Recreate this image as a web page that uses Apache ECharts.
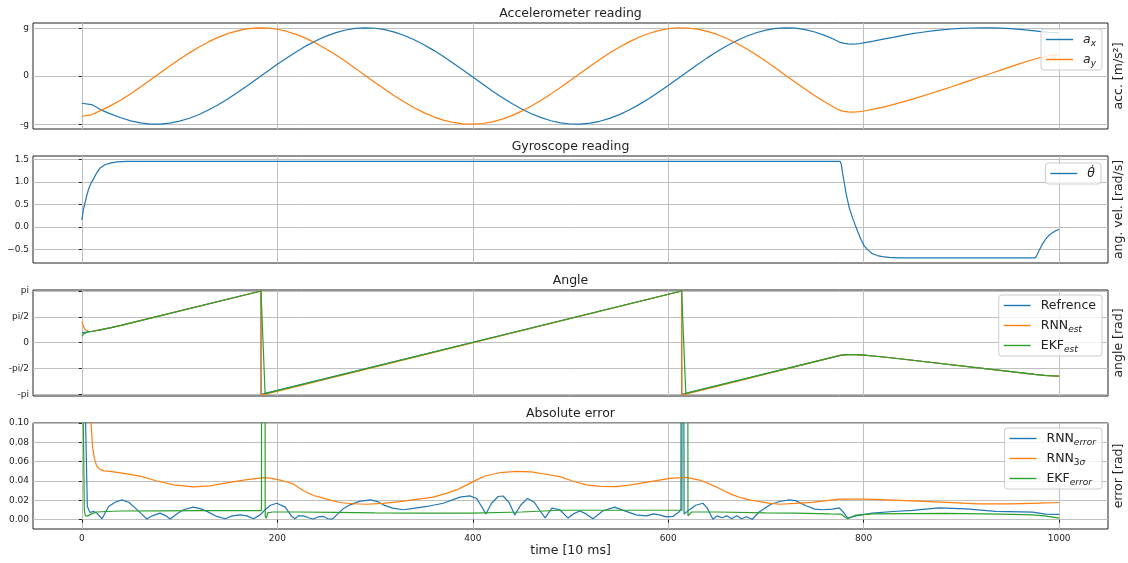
<!DOCTYPE html>
<html>
<head>
<meta charset="utf-8">
<script src="https://cdn.jsdelivr.net/npm/echarts@6/dist/echarts.min.js"></script>
<style>
  html, body { margin: 0; padding: 0; background: #fff; }
  #chart { width: 1128px; height: 563px; }
</style>
</head>
<body>
<div id="chart"></div>
<script>
// shared time axis, in steps of 10 ms
const timeTicks = [0, 200, 400, 600, 800, 1000];

// accelerometer reading [m/s^2]
const accTicks = [-9.81, 0, 9.81];
const accTickLabels = ['-g', '0', 'g'];
const accT = [0, 10, 20, 30, 40, 50, 60, 70, 80, 90, 100, 110, 120, 130, 140, 150, 160, 170, 180, 190,
  200, 210, 220, 230, 240, 250, 260, 270, 280, 290, 300, 310, 320, 330, 340, 350, 360, 370, 380, 390,
  400, 410, 420, 430, 440, 450, 460, 470, 480, 490, 500, 510, 520, 530, 540, 550, 560, 570, 580, 590,
  600, 610, 620, 630, 640, 650, 660, 670, 680, 690, 700, 710, 720, 730, 740, 750, 760, 770,
  776, 780, 784, 788, 792, 796, 800, 810, 820, 830, 840, 850, 860, 870, 880, 890,
  900, 910, 920, 930, 940, 950, 960, 970, 980, 990, 1000];
const accX = [-5.55, -5.82, -6.94, -7.77, -8.51, -9.13, -9.55, -9.78, -9.79, -9.60, -9.20, -8.60, -7.83, -6.88, -5.79, -4.58, -3.27, -1.89, -0.47, 0.96,
  2.37, 3.73, 5.01, 6.19, 7.23, 8.12, 8.83, 9.36, 9.69, 9.81, 9.72, 9.43, 8.93, 8.25, 7.39, 6.37, 5.22, 3.96, 2.61, 1.21,
  -0.22, -1.65, -3.04, -4.36, -5.59, -6.71, -7.68, -8.48, -9.11, -9.54, -9.77, -9.79, -9.61, -9.22, -8.63, -7.86, -6.92, -5.83, -4.62, -3.32,
  -1.94, -0.52, 0.91, 2.32, 3.69, 4.97, 6.15, 7.19, 8.09, 8.81, 9.34, 9.68, 9.81, 9.73, 9.44, 8.96, 8.28, 7.42,
  6.83, 6.65, 6.54, 6.50, 6.53, 6.61, 6.74, 7.11, 7.50, 7.88, 8.27, 8.61, 8.91, 9.18, 9.39, 9.57,
  9.69, 9.77, 9.81, 9.80, 9.74, 9.63, 9.48, 9.29, 9.08, 8.90, 8.79];
const accY = [-8.2, -7.90, -6.94, -5.98, -4.88, -3.59, -2.22, -0.81, 0.62, 2.04, 3.41, 4.71, 5.92, 6.99, 7.92, 8.68, 9.25, 9.63, 9.80, 9.76,
  9.52, 9.07, 8.43, 7.61, 6.63, 5.51, 4.27, 2.94, 1.55, 0.12, -1.31, -2.71, -4.05, -5.31, -6.45, -7.46, -8.31, -8.98, -9.46, -9.74,
  -9.81, -9.67, -9.33, -8.79, -8.06, -7.16, -6.11, -4.93, -3.64, -2.27, -0.86, 0.57, 1.99, 3.36, 4.67, 5.87, 6.95, 7.89, 8.65, 9.23,
  9.62, 9.80, 9.77, 9.53, 9.09, 8.46, 7.64, 6.67, 5.55, 4.32, 2.99, 1.60, 0.17, -1.26, -2.66, -4.00, -5.26, -6.41,
  -7.04, -7.21, -7.31, -7.34, -7.32, -7.24, -7.12, -6.76, -6.33, -5.84, -5.28, -4.70, -4.10, -3.47, -2.83, -2.18,
  -1.51, -0.84, -0.16, 0.51, 1.19, 1.86, 2.51, 3.16, 3.72, 4.13, 4.35];

// gyroscope reading [rad/s]
const gyroTicks = [-0.5, 0, 0.5, 1, 1.5];
const gyroTickLabels = ['\u22120.5', '0.0', '0.5', '1.0', '1.5'];
const gyroT = [0, 1.5, 3.5, 5, 7, 9.5, 12, 15, 19, 24, 29, 36, 46,
  776, 777, 778.5, 780, 782, 785.4, 788.8, 791, 794, 797, 800.7, 805, 809, 814, 819, 826, 835,
  975.5, 977, 979.6, 983, 986.4, 990, 993.2, 996, 1000];
const gyroV = [0.15, 0.38, 0.56, 0.70, 0.85, 0.98, 1.07, 1.2, 1.32, 1.39, 1.42, 1.45, 1.46,
  1.46, 1.40, 1.19, 1.0, 0.74, 0.41, 0.19, 0.06, -0.11, -0.27, -0.43, -0.53, -0.60, -0.64, -0.665, -0.68, -0.69,
  -0.69, -0.64, -0.52, -0.38, -0.27, -0.18, -0.13, -0.09, -0.06];

// angle [rad]
const PI = Math.PI;
const angleTicks = [-PI, -PI / 2, 0, PI / 2, PI];
const angleTickLabels = ['-pi', '-pi/2', '0', 'pi/2', 'pi'];
const angleTailT = [776, 780, 784, 788, 792, 796, 800, 810, 820, 830, 975, 980, 985, 990, 995, 1000];
const angleTailV = [-0.772, -0.745, -0.73, -0.725, -0.728, -0.74, -0.758, -0.81, -0.87, -0.933, -1.93, -1.96, -1.985, -2.005, -2.02, -2.03];
const refT = [0, 5, 10, 20, 30, 40, 183.3, 183.3, 613.7, 613.7];
const refV = [0.6, 0.64, 0.68, 0.79, 0.915, 1.05, 3.1416, -3.1416, 3.1416, -3.1416];
const rnnEstT = [0, 2, 4, 7, 10, 20, 30, 40, 183.3, 183.6, 187, 189, 613.7, 614, 617, 619];
const rnnEstV = [1.28, 0.93, 0.77, 0.69, 0.68, 0.79, 0.915, 1.05, 3.1416, -3.1416, -3.1416, -3.06, 3.1416, -3.1416, -3.1416, -3.06];
const ekfEstT = [0, 2, 4, 7, 10, 20, 30, 40, 183.3, 187.5, 188.5, 613.7, 618, 619];
const ekfEstV = [0.39, 0.55, 0.63, 0.67, 0.68, 0.79, 0.915, 1.05, 3.1416, -3.10, -3.07, 3.1416, -3.08, -3.064];

// absolute error [rad]
const errTicks = [0, 0.02, 0.04, 0.06, 0.08, 0.1];
const rnnErrT = [0, 3, 4, 5.6, 8.4, 12, 15, 20.6, 27.4, 34, 41, 48, 54.7, 61, 66.6, 72, 80, 86, 90.4, 97,
  104, 114, 121, 128, 138, 146.6, 154, 162, 169, 175.6, 182.4, 187.5, 193, 199.5, 208, 214.8, 218, 222, 226.7, 232,
  237, 242, 247, 252, 255.7, 258, 259, 260.8, 267, 274.4, 284, 294.8, 302, 308.5, 318, 328.9, 341, 352.8, 369.8, 386.8,
  397, 403.9, 409, 413.4, 419.2, 426, 431, 437, 443, 449, 456, 463, 469, 474, 481, 489, 497.5, 503, 509.5, 516,
  523, 533, 545, 557, 567, 577.6, 585, 591, 598, 604.8, 611.6, 613, 613.4, 615.6, 616.2, 620, 628, 635.5, 640, 645.7,
  650, 655, 660, 665, 670, 675, 680, 686, 693, 705, 714, 724, 731, 741, 750, 758, 768, 775, 779, 783.6,
  792, 809, 830, 850, 877, 905, 935, 973, 986, 1000];
const rnnErrV = [0.6, 0.15, 0.09, 0.0137, 0.0075, 0.0086, 0.007, 0.001, 0.0137, 0.018, 0.0205, 0.018, 0.012, 0.006, 0.0007, 0.004, 0.0068, 0.004, 0.0007, 0.006,
  0.0103, 0.013, 0.0115, 0.0086, 0.0034, 0.001, 0.004, 0.005, 0.004, 0.001, 0.005, 0.0103, 0.015, 0.017, 0.013, 0.0034, 0.001, 0.004, 0.004, 0.002,
  0.0007, 0.003, 0.0034, 0.001, 0.0007, 0.002, 0.001, 0.005, 0.011, 0.0154, 0.019, 0.0205, 0.019, 0.0154, 0.012, 0.0103, 0.012, 0.0137, 0.017, 0.0233,
  0.0247, 0.022, 0.0137, 0.006, 0.017, 0.024, 0.0245, 0.018, 0.005, 0.015, 0.022, 0.018, 0.009, 0.002, 0.012, 0.0103, 0.0017, 0.006, 0.009, 0.006,
  0.001, 0.009, 0.013, 0.0086, 0.005, 0.004, 0.006, 0.005, 0.003, 0.0034, 0.0086, 0.011, 0.4, 0.4, 0.006, 0.009, 0.015, 0.017, 0.012, 0.0005,
  0.004, 0.002, 0.004, 0.001, 0.004, 0.001, 0.003, 0.0005, 0.008, 0.016, 0.0188, 0.0205, 0.0195, 0.0144, 0.011, 0.0103, 0.011, 0.0123, 0.008, 0.0017,
  0.004, 0.0068, 0.0085, 0.0096, 0.0123, 0.0113, 0.0086, 0.0079, 0.0058, 0.0055];
const rnn3sT = [0, 7, 9.4, 11, 12.6, 15, 18.5, 23, 29, 42.7, 59.8, 76.8, 94, 114, 131, 148, 165.4, 186, 192.6, 203,
  210, 216.4, 222, 227, 237, 243.8, 251, 264, 277, 291.5, 308, 325.5, 342, 359.5, 372, 383.4, 392, 400.4, 412.4, 427.7,
  445, 460, 475, 489, 502, 516, 530, 546.9, 560, 574, 588, 601.4, 618.5, 632, 640, 649, 657, 666, 675, 683,
  693, 703, 713.8, 730, 747.6, 762, 775, 802, 825, 850, 885, 918, 952, 980, 1000];
const rnn3sV = [0.5, 0.2, 0.1, 0.075, 0.064, 0.056, 0.052, 0.0505, 0.05, 0.048, 0.045, 0.04, 0.036, 0.034, 0.035, 0.038, 0.041, 0.0435, 0.043, 0.041,
  0.039, 0.037, 0.033, 0.03, 0.025, 0.0233, 0.021, 0.0178, 0.0165, 0.016, 0.0168, 0.0188, 0.021, 0.0233, 0.027, 0.0308, 0.035, 0.0394, 0.0452, 0.0486,
  0.05, 0.0495, 0.047, 0.0445, 0.04, 0.036, 0.0345, 0.0342, 0.0358, 0.038, 0.0405, 0.0428, 0.0438, 0.041, 0.038, 0.034, 0.03, 0.0257, 0.0225, 0.0205,
  0.0188, 0.0172, 0.016, 0.0168, 0.018, 0.0197, 0.0212, 0.0212, 0.0205, 0.0195, 0.018, 0.0164, 0.0164, 0.0172, 0.0178];
const ekfErrT = [0, 1.5, 2.5, 3.5, 6, 10, 15, 25, 40, 80, 120, 150, 183.8, 184, 187.2, 187.6, 188.8, 190, 195, 220,
  260, 300, 340, 400, 450, 490, 560, 610, 614, 614.6, 619.8, 620.2, 621.9, 624, 650, 700, 730, 765, 776.4, 783.6,
  792, 809, 884, 940, 972.7, 985, 1000];
const ekfErrV = [0.5, 0.1, 0.01, 0.004, 0.004, 0.006, 0.008, 0.0085, 0.009, 0.0092, 0.0095, 0.0095, 0.0095, 0.5, 0.5, 0.004, 0.0015, 0.007, 0.008, 0.008,
  0.0075, 0.007, 0.0068, 0.0068, 0.008, 0.0098, 0.0098, 0.0098, 0.0098, 0.5, 0.5, 0.004, 0.002, 0.008, 0.008, 0.007, 0.0068, 0.006, 0.0058, 0.001,
  0.0048, 0.006, 0.0065, 0.0058, 0.005, 0.004, 0.0017];

const FONT = 'DejaVu Sans';
const INK = '#222';
const C0 = '#1f77b4', C1 = '#ff7f0e', C2 = '#2ca02c';
const pair = (t, v) => t.map((x, i) => [x, v[i]]);

const panels = [
  { top: 23, height: 106, title: 'Accelerometer reading', ylabel: 'acc. [m/s\u00b2]', min: -10.79, max: 10.79,
    ticks: accTicks, fmt: v => accTickLabels[accTicks.findIndex(t => Math.abs(t - v) < 1e-6)] },
  { top: 156, height: 107, title: 'Gyroscope reading', ylabel: 'ang. vel. [rad/s]', min: -0.806, max: 1.58,
    ticks: gyroTicks, fmt: v => gyroTickLabels[gyroTicks.findIndex(t => Math.abs(t - v) < 1e-6)] },
  { top: 290, height: 106, title: 'Angle', ylabel: 'angle [rad]', min: -3.24, max: 3.2,
    ticks: angleTicks, fmt: v => angleTickLabels[angleTicks.findIndex(t => Math.abs(t - v) < 1e-6)] },
  { top: 423, height: 106, title: 'Absolute error', ylabel: 'error [rad]', min: -0.0096, max: 0.1,
    ticks: errTicks, fmt: v => v.toFixed(2) },
];

const legendText = {
  a_x: '{i|a}{si|x}', a_y: '{i|a}{si|y}', theta_dot: '{i|\u03b8\u0307}',
  Refrence: '{n|Refrence}', RNN_est: '{n|RNN}{si|est}', EKF_est: '{n|EKF}{si|est}',
  RNN_error: '{n|RNN}{si|error}', RNN_3sigma: '{n|RNN}{s|3}{si|\u03c3}', EKF_error: '{n|EKF}{si|error}',
};
const rich = {
  n: { fontSize: 12.5, lineHeight: 17, color: INK, fontFamily: FONT, padding: [0, 0, 0, 5] },
  i: { fontSize: 12.5, lineHeight: 17, fontStyle: 'italic', color: INK, fontFamily: FONT, padding: [0, 0, 0, 5] },
  s: { fontSize: 9, lineHeight: 9, verticalAlign: 'bottom', color: INK, fontFamily: FONT },
  si: { fontSize: 9, lineHeight: 9, verticalAlign: 'bottom', fontStyle: 'italic', color: INK, fontFamily: FONT },
};

const line = (name, t, v, color, idx) => ({
  type: 'line', name, xAxisIndex: idx, yAxisIndex: idx, data: pair(t, v),
  symbol: 'none', showSymbol: false, clip: true, color,
  lineStyle: { width: 1.2, color }, emphasis: { disabled: true },
});

const option = {
  animation: false,
  backgroundColor: '#fff',
  textStyle: { fontFamily: FONT },
  title: panels.map(p => ({
    text: p.title, left: 570.5, top: p.top - 16, textAlign: 'center', padding: 0,
    textStyle: { fontSize: 12.5, fontWeight: 'normal', color: INK, fontFamily: FONT },
  })),
  grid: panels.map(p => ({
    left: 33, width: 1075, top: p.top, height: p.height, show: true,
    borderColor: INK, borderWidth: 1, backgroundColor: 'transparent',
    containLabel: false, outerBoundsMode: 'none',
  })),
  xAxis: panels.map((p, i) => ({
    type: 'value', gridIndex: i, min: -50, max: 1050,
    axisLine: { show: false },
    axisTick: { show: i === 3, length: 3, customValues: timeTicks, lineStyle: { color: INK } },
    axisLabel: { show: i === 3, customValues: timeTicks, formatter: v => String(v),
      fontSize: 9, color: INK, margin: 5, fontFamily: FONT },
    splitLine: { show: true, lineStyle: { color: '#c0c0c0', width: 1 } },
    name: i === 3 ? 'time [10 ms]' : '', nameLocation: 'middle', nameGap: 15,
    nameTextStyle: { fontSize: 12.5, color: INK, fontFamily: FONT },
  })),
  yAxis: panels.map((p, i) => ({
    type: 'value', gridIndex: i, min: p.min, max: p.max,
    axisLine: { show: false },
    axisTick: { show: true, length: 3, customValues: p.ticks, lineStyle: { color: INK } },
    axisLabel: { customValues: p.ticks, formatter: p.fmt, fontSize: 9, color: INK, margin: 4, fontFamily: FONT },
    splitLine: { show: true, lineStyle: { color: '#c0c0c0', width: 1 } },
  })).concat(panels.map((p, i) => ({
    type: 'value', gridIndex: i, position: 'right', min: 0, max: 1,
    axisLine: { show: false }, axisTick: { show: false }, axisLabel: { show: false }, splitLine: { show: false },
    name: p.ylabel, nameLocation: 'middle', nameGap: 4,
    nameTextStyle: { fontSize: 12.5, color: INK, fontFamily: FONT },
  }))),
  legend: [
    { data: ['a_x', 'a_y'], right: 26, top: 29 },
    { data: ['theta_dot'], right: 27, top: 163 },
    { data: ['Refrence', 'RNN_est', 'EKF_est'], right: 26, top: 295 },
    { data: ['RNN_error', 'RNN_3sigma', 'EKF_error'], right: 26, top: 428 },
  ].map(l => Object.assign(l, {
    orient: 'vertical', align: 'left', icon: 'rect', itemWidth: 27, itemHeight: 1.4, itemGap: 3,
    padding: [2, 6, 2, 5], backgroundColor: 'rgba(255,255,255,0.8)',
    borderColor: '#cccccc', borderWidth: 1, borderRadius: 3,
    selectedMode: false, formatter: n => legendText[n],
    textStyle: { color: INK, fontFamily: FONT, fontSize: 12.5, lineHeight: 17, rich },
  })),
  series: [
    line('a_x', accT, accX, C0, 0),
    line('a_y', accT, accY, C1, 0),
    line('theta_dot', gyroT, gyroV, C0, 1),
    line('Refrence', refT.concat(angleTailT), refV.concat(angleTailV), C0, 2),
    line('RNN_est', rnnEstT.concat(angleTailT), rnnEstV.concat(angleTailV), C1, 2),
    line('EKF_est', ekfEstT.concat(angleTailT), ekfEstV.concat(angleTailV), C2, 2),
    line('RNN_error', rnnErrT, rnnErrV, C0, 3),
    line('RNN_3sigma', rnn3sT, rnn3sV, C1, 3),
    line('EKF_error', ekfErrT, ekfErrV, C2, 3),
  ],
};

const chart = echarts.init(document.getElementById('chart'));
chart.setOption(option);
</script>
</body>
</html>
